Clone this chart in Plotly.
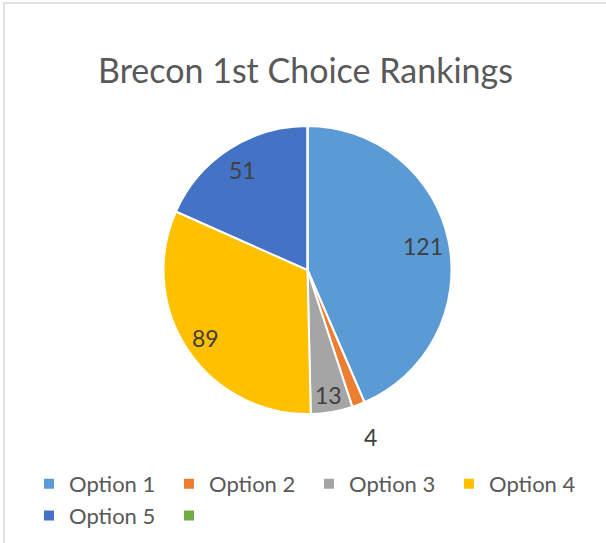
import math
import plotly.graph_objects as go

categories = ["Option 1", "Option 2", "Option 3", "Option 4", "Option 5", " "]
values = [121, 4, 13, 89, 51, 0]
colors = ["#5B9BD5", "#ED7D31", "#A5A5A5", "#FFC000", "#4472C4", "#70AD47"]
# data-label distance from centre, as a fraction of the pie radius (Excel "best fit")
label_radius = [0.82, 1.24, 0.88, 0.85, 0.83, None]

FONT = "Lato, 'Noto Sans', sans-serif"
W, H = 606, 543
ML, MR, MT, MB = 10, 1, 126, 129
PW, PH = W - ML - MR, H - MT - MB
R = min(PW, PH) / 2

fig = go.Figure(go.Pie(
    labels=categories,
    values=values,
    sort=False,
    direction="clockwise",
    rotation=0,
    marker=dict(colors=colors, line=dict(color="white", width=2)),
    textinfo="none",
    hoverinfo="label+value",
    domain=dict(x=[0, 1], y=[0, 1]),
))

# data labels placed at each slice's mid-angle, computed from the values
total = sum(values)
annotations = []
cum = 0
for cat, v, f in zip(categories, values, label_radius):
    mid = (cum + v / 2) / total * 2 * math.pi
    cum += v
    if not v or f is None:
        continue
    annotations.append(dict(
        x=0.5 + f * R * math.sin(mid) / PW,
        y=0.5 + f * R * math.cos(mid) / PH,
        xref="paper", yref="paper", text=str(v), showarrow=False,
        xanchor="center", yanchor="middle",
        font=dict(family=FONT, size=23, color="#404040"),
    ))

fig.update_layout(
    width=W, height=H,
    paper_bgcolor="white",
    margin=dict(l=ML, r=MR, t=MT, b=MB, autoexpand=False),
    title=dict(text="Brecon 1st Choice Rankings", x=305.5 / W, xref="container",
               y=1 - 71 / H, yref="container", xanchor="center", yanchor="middle",
               font=dict(family=FONT, size=34, color="#595959")),
    annotations=annotations,
    legend=dict(orientation="h", x=29 / W, xref="container", xanchor="left",
                y=1 - 463 / H, yref="container", yanchor="top",
                entrywidth=95, entrywidthmode="pixels",
                font=dict(family=FONT, size=22, color="#595959"),
                itemwidth=30, traceorder="normal"),
    shapes=[dict(type="rect", xref="paper", yref="paper",
                 x0=(4 - ML) / PW, x1=(W + 20 - ML) / PW,
                 y0=(H - MB - H - 30) / PH, y1=(H - MB - 3) / PH,
                 line=dict(color="#D9D9D9", width=1.5),
                 fillcolor="rgba(0,0,0,0)", layer="above")],
)

fig.write_html(
    "out.html",
    config={"displayModeBar": False},
    post_script="document.body.style.margin='0';document.body.style.padding='0';",
)
